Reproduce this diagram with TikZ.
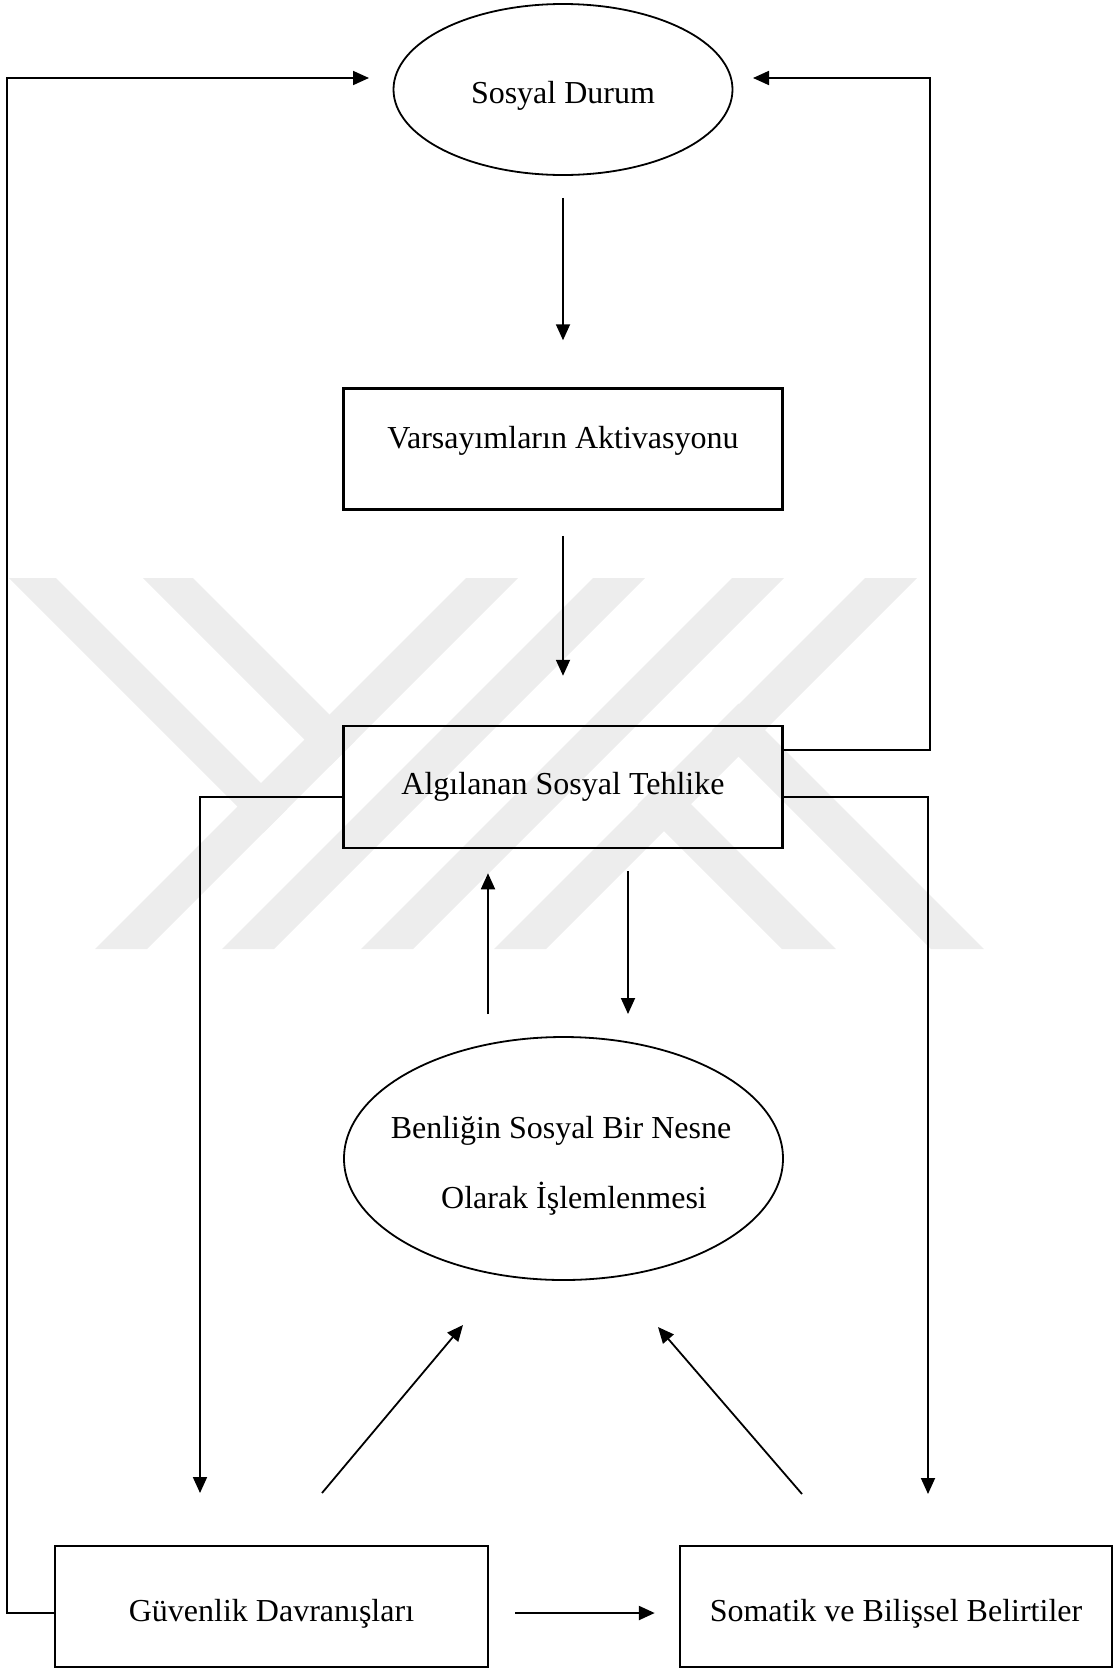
\documentclass[tikz,border=0pt]{standalone}
\usepackage{fontspec}
\setmainfont{Liberation Serif}
\usetikzlibrary{arrows.meta,shapes.geometric}
\begin{document}
\begin{tikzpicture}[x=1pt, y=-1pt,
        font=\fontsize{32}{38}\selectfont,
        box/.style={draw, line width=2.5pt, minimum width=439pt, minimum height=121pt, inner sep=0pt},
        oval/.style={draw, ellipse, line width=1.8pt, inner sep=0pt},
        link/.style={line width=1.5pt},
        arr/.style={line width=1.8pt, -{Triangle[length=16pt, width=14pt]}},
        wmark/.style={fill=black!7}]
    \useasboundingbox (0,0) rectangle (1116,1668);
    % watermark
    \foreach \a in {466,593,732,865} {
        \fill[wmark] (\a,578) -- ++(52,0) -- ++(-371,371) -- ++(-52,0) -- cycle;
    }
    \fill[wmark] (9,578) -- (56,578) -- (287,809) -- (263.5,832.5) -- cycle;
    \fill[wmark] (143,578) -- (193,578) -- (355.5,740.5) -- (330.5,765.5) -- cycle;
    \fill[wmark] (637.5,804.5) -- (664.5,777.5) -- (836,949) -- (782,949) -- cycle;
    \fill[wmark] (712,730) -- (738.5,703.5) -- (984,949) -- (931,949) -- cycle;

    \node[oval, minimum width=339pt, minimum height=171pt, text height=35pt, text depth=7pt]
        (sit) at (563,89.5) {Sosyal Durum};
    \node[box, text height=22pt, text depth=24pt] (ass) at (563,449) {Varsayımların Aktivasyonu};
    \node[box, minimum height=122pt] (thr) at (563,787) {Algılanan Sosyal Tehlike};
    \node[oval, minimum width=439pt, minimum height=243pt] (self) at (563.5,1158.5) {};
    \node[align=center, inner sep=0pt, font=\fontsize{32}{70}\selectfont] (selftxt) at (561,1165.5)
        {Benliğin Sosyal Bir Nesne\\\hspace*{26pt}Olarak İşlemlenmesi};
    \node[box, minimum width=433pt, text height=37pt, text depth=7pt] (safe) at (271.5,1606.5)
        {Güvenlik Davranışları};
    \node[box, minimum width=432pt, text height=37pt, text depth=7pt] (symp) at (896,1606.5)
        {Somatik ve Bilişsel Belirtiler};

    \coordinate (sitL) at (369,78);
    \coordinate (sitR) at (753,78);
    \coordinate (up0) at (488,1014);
    \coordinate (dn0) at (628,1014);
    \coordinate (safeIn) at (200,1493);
    \coordinate (sympIn) at (928,1494);
    \coordinate (d1a) at (322,1493);
    \coordinate (d1b) at (463,1325);
    \coordinate (d2a) at (802,1494);
    \coordinate (d2b) at (658,1327);

    \draw[arr, shorten <=22pt, shorten >=47pt] (sit.south) -- (ass.north);
    \draw[arr, shorten <=25pt, shorten >=49pt] (ass.south) -- (thr.north);
    \draw[arr, shorten >=24pt] (up0) -- (up0 |- thr.south);
    \draw[arr, shorten <=22pt] (dn0 |- thr.south) -- (dn0);
    \draw[arr] (d1a) -- (d1b);
    \draw[arr] (d2a) -- (d2b);
    \draw[link, arr] ([yshift=-10pt]thr.west) -| (safeIn);
    \draw[link, arr] ([yshift=-10pt]thr.east) -| (sympIn);
    \draw[link, arr] ([yshift=37pt]thr.east) -- ++(146,0) |- (sitR);
    \draw[link, arr] ([yshift=-6.5pt]safe.west) -- ++(-46.5,0) |- (sitL);
    \draw[arr, line width=2.4pt, shorten <=26pt, shorten >=24pt]
        ([yshift=-6.5pt]safe.east) -- ([yshift=-6.5pt]symp.west);
\end{tikzpicture}
\end{document}
